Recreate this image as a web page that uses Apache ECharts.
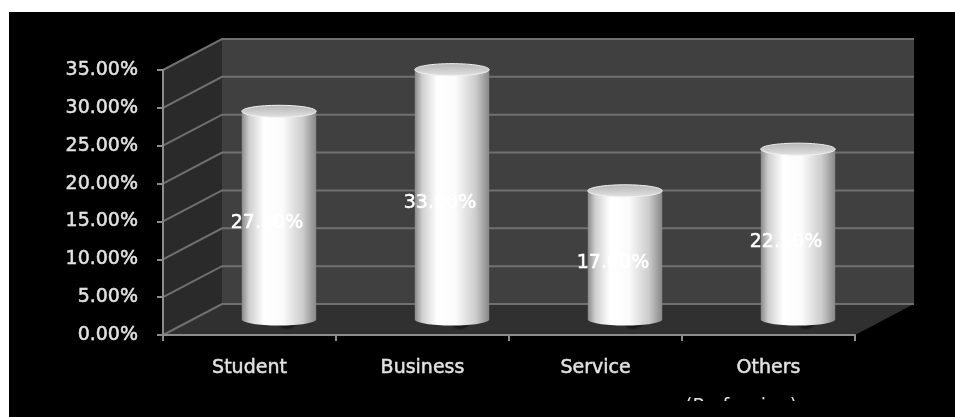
<!DOCTYPE html>
<html>
<head>
<meta charset="utf-8">
<script src="https://cdn.jsdelivr.net/npm/echarts@6/dist/echarts.min.js"></script>
<style>
  html, body { margin: 0; padding: 0; background: #fff; width: 955px; height: 417px; overflow: hidden; }
  #chart { position: absolute; left: 9px; top: 12px; width: 946px; height: 405px; background: #000; }
</style>
</head>
<body>
<div id="chart"></div>
<script>
// Share of respondents by profession
const categories = ['Student', 'Business', 'Service', 'Others'];
const shares = [27.5, 33.0, 17.0, 22.5];
const gridValues = [0, 5, 10, 15, 20, 25, 30, 35];
const axisTitle = '(Profession)';

// Depth of the 3D box (pixels from the front plane to the back wall)
const DX = 59, DY = -31;
const FONT = '"DejaVu Sans", sans-serif';
const FONT_SIZE = 19;
const TEXT_COLOR = '#e2e2e2';

const chart = echarts.init(document.getElementById('chart'), null, { renderer: 'canvas' });

function pct(v) { return v.toFixed(2) + '%'; }

// Back wall, side wall and floor of the box
function renderFrame(params, api) {
  const cs = params.coordSys;
  const l = cs.x, r = cs.x + cs.width, t = cs.y, b = cs.y + cs.height;
  return {
    type: 'group',
    children: [
      { type: 'rect', shape: { x: l + DX, y: t + DY, width: cs.width, height: cs.height },
        style: { fill: '#404040' } },
      { type: 'polygon', shape: { points: [[l, t], [l + DX, t + DY], [l + DX, b + DY], [l, b]] },
        style: { fill: '#2a2a2a' } },
      { type: 'polygon', shape: { points: [[l, b], [l + DX, b + DY], [r + DX, b + DY], [r, b]] },
        style: { fill: '#303030' } }
    ]
  };
}

// Gridline running along the side wall and across the back wall
function renderGridLine(params, api) {
  const cs = params.coordSys;
  const y = api.coord([0, api.value(1)])[1];
  return {
    type: 'polyline',
    shape: { points: [[cs.x, y], [cs.x + DX, y + DY], [cs.x + cs.width + DX, y + DY]] },
    style: { stroke: '#707070', lineWidth: 2, fill: null }
  };
}

// Cylinder standing in the middle of the box depth
function renderCylinder(params, api) {
  const idx = api.value(0), val = api.value(1);
  const base = api.coord([idx, 0]);
  const top = api.coord([idx, val]);
  const cx = base[0] + DX / 2;
  const by = base[1] + DY / 2;
  const ty = top[1] + DY / 2;
  const w = api.size([1, 0])[0] * 0.43;
  const rx = w / 2, ry = 6;
  const body = new echarts.graphic.LinearGradient(0, 0, 1, 0, [
    { offset: 0, color: '#8a8a8a' },
    { offset: 0.1, color: '#cfcfcf' },
    { offset: 0.3, color: '#ffffff' },
    { offset: 0.55, color: '#fbfbfb' },
    { offset: 0.82, color: '#cccccc' },
    { offset: 1, color: '#888888' }
  ]);
  const cap = new echarts.graphic.LinearGradient(0, 0, 0, 1, [
    { offset: 0, color: '#b4b4b4' },
    { offset: 1, color: '#e2e2e2' }
  ]);
  const shadow = new echarts.graphic.RadialGradient(0.5, 0.5, 0.5, [
    { offset: 0, color: 'rgba(0,0,0,0.8)' },
    { offset: 0.75, color: 'rgba(0,0,0,0.45)' },
    { offset: 1, color: 'rgba(0,0,0,0)' }
  ]);
  return {
    type: 'group',
    children: [
      { type: 'ellipse', shape: { cx: cx + 8, cy: by - 1, rx: rx + 22, ry: ry + 6 }, style: { fill: shadow } },
      { type: 'ellipse', shape: { cx: cx, cy: by, rx: rx, ry: ry }, style: { fill: body } },
      { type: 'rect', shape: { x: cx - rx, y: ty, width: w, height: by - ty }, style: { fill: body } },
      { type: 'ellipse', shape: { cx: cx, cy: ty, rx: rx, ry: ry },
        style: { fill: cap, stroke: '#f2f2f2', lineWidth: 1 } },
      { type: 'text', x: cx - 12, y: (ty + by) / 2 + 8,
        style: { text: pct(val), fill: '#ffffff', font: FONT_SIZE + 'px ' + FONT,
          stroke: '#ffffff', lineWidth: 0.5, align: 'center', verticalAlign: 'middle' } }
    ]
  };
}

const labelStyle = {
  color: TEXT_COLOR, fontSize: FONT_SIZE, fontFamily: FONT,
  textBorderColor: TEXT_COLOR, textBorderWidth: 0.5
};

const option = {
  backgroundColor: '#000',
  animation: false,
  grid: { left: 154, top: 58, width: 692, height: 265 },
  xAxis: {
    type: 'category',
    data: categories,
    z: 10,
    axisLine: { lineStyle: { color: '#8c8c8c', width: 2 } },
    axisTick: { show: true, length: 6, lineStyle: { color: '#8c8c8c', width: 2 } },
    axisLabel: Object.assign({ margin: 24 }, labelStyle),
    splitLine: { show: false }
  },
  yAxis: {
    type: 'value',
    min: 0, max: 35, interval: 5,
    z: 10,
    axisLine: { show: true, lineStyle: { color: '#8c8c8c', width: 2 } },
    axisTick: { show: true, length: 6, lineStyle: { color: '#8c8c8c', width: 2 } },
    axisLabel: Object.assign({ margin: 25, padding: [6, 0, 0, 0], formatter: pct }, labelStyle),
    splitLine: { show: false }
  },
  graphic: [
    { type: 'text', left: 756 - 80, top: 386, z: 100,
      style: { text: axisTitle, fill: TEXT_COLOR, font: FONT_SIZE + 'px ' + FONT, width: 160, align: 'center' } },
    { type: 'rect', left: 0, top: 389, z: 101, shape: { width: 946, height: 30 }, style: { fill: '#000' } }
  ],
  series: [
    { type: 'custom', name: 'frame', renderItem: renderFrame, data: [[0, 0]], silent: true, z: 1 },
    { type: 'custom', name: 'gridlines', renderItem: renderGridLine,
      data: gridValues.map(v => [0, v]), silent: true, z: 2 },
    { type: 'custom', name: 'Share', renderItem: renderCylinder,
      data: shares.map((v, i) => [i, v]), z: 3 }
  ]
};

chart.setOption(option);
</script>
</body>
</html>
